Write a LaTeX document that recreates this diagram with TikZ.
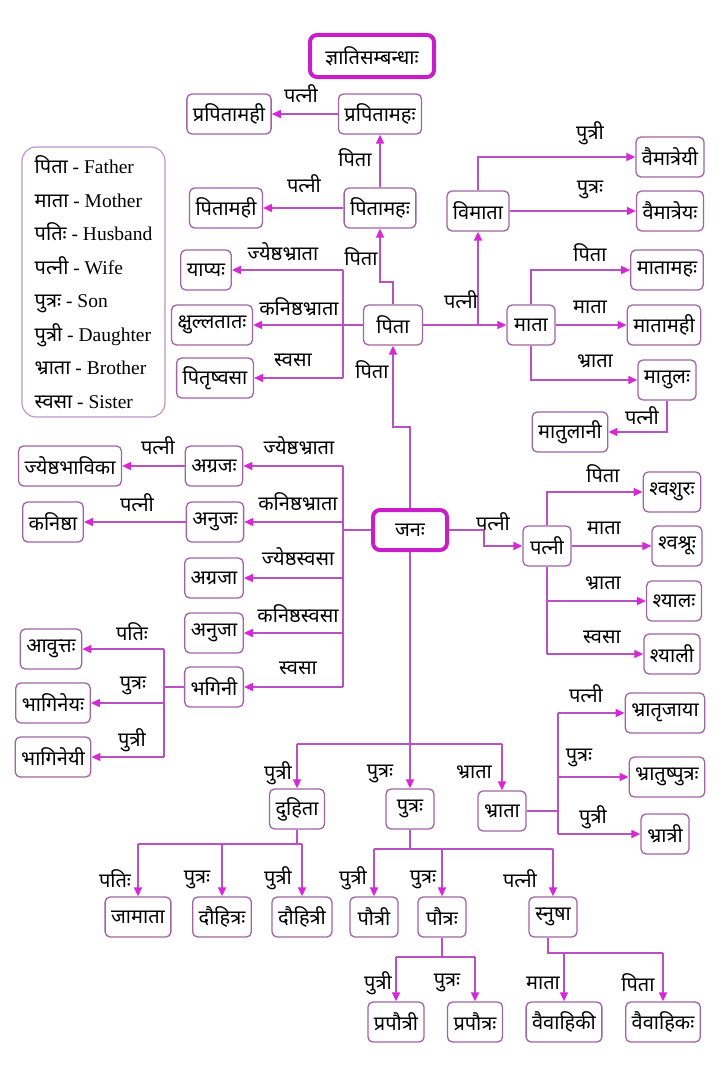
\documentclass[tikz,border=0pt]{standalone}
\usepackage{fontspec}
\setmainfont{Liberation Serif}
\newfontfamily\deva[Script=Devanagari]{Noto Sans}
\usetikzlibrary{arrows.meta}

\begin{document}
\begin{tikzpicture}[x=1pt, y=-1pt,
    box/.style={draw=myedge, line width=1.3pt, rounded corners=5pt, fill=white,
        font=\deva\fontsize{20}{22}\selectfont, minimum height=40pt, minimum width=48pt, inner xsep=6pt},
    mainbox/.style={box, draw=mymain, line width=4pt, rounded corners=7pt},
    lbl/.style={font=\deva\fontsize{20}{22}\selectfont, inner sep=0pt},
    line/.style={draw=myline, line width=1.6pt},
    arr/.style={line, -{Triangle[length=9pt, width=8pt, color=mytip]}},
]
    \definecolor{myedge}{RGB}{160,100,165}
    \definecolor{mymain}{RGB}{200,30,200}
    \definecolor{myline}{RGB}{185,80,195}
    \definecolor{mytip}{RGB}{215,40,215}
    \definecolor{mylegend}{RGB}{190,150,200}

    \useasboundingbox (0,0) rectangle (720,1073);

    % legend
    \node[draw=mylegend, line width=1.2pt, rounded corners=14pt, minimum width=143pt, minimum height=270pt,
        align=left, font=\fontsize{19.5}{33.5}\selectfont] (legend) at (93.5,282)
        {{\deva\fontsize{20}{20}\selectfont पिता} - Father\\ {\deva\fontsize{20}{20}\selectfont माता} - Mother\\
         {\deva\fontsize{20}{20}\selectfont पतिः} - Husband\\ {\deva\fontsize{20}{20}\selectfont पत्नी} - Wife\\
         {\deva\fontsize{20}{20}\selectfont पुत्रः} - Son\\ {\deva\fontsize{20}{20}\selectfont पुत्री} - Daughter\\
         {\deva\fontsize{20}{20}\selectfont भ्राता} - Brother\\ {\deva\fontsize{20}{20}\selectfont स्वसा} - Sister};

    % father's side
    \node[mainbox, minimum width=124pt, minimum height=42pt] (title) at (372,56) {ज्ञातिसम्बन्धाः};
    \node[box] (prapitamahi) at (229,114) {प्रपितामही};
    \node[box] (prapitamaha) at (380,114) {प्रपितामहः};
    \node[box] (pitamahi) at (226,208) {पितामही};
    \node[box] (pitamaha) at (380,208) {पितामहः};
    \node[box] (vimata) at (478,211) {विमाता};
    \node[box] (vaimatreyi) at (670,157) {वैमात्रेयी};
    \node[box] (vaimatreya) at (670,211) {वैमात्रेयः};
    \node[box] (yapya) at (206,270) {याप्यः};
    \node[box] (kshullatata) at (212,325) {क्षुल्लतातः};
    \node[box] (pitrshvasa) at (215,378) {पितृष्वसा};
    \node[box, minimum width=59pt] (pita) at (393,325) {पिता};
    \node[box] (mata) at (531,325) {माता};
    \node[box] (matamaha) at (667,270) {मातामहः};
    \node[box] (matamahi) at (664,325) {मातामही};
    \node[box] (matula) at (667,380) {मातुलः};
    \node[box] (matulani) at (570,432) {मातुलानी};

    % siblings
    \node[mainbox, minimum width=74pt] (jana) at (410,530) {जनः};
    \node[box] (jyeshthabhavika) at (70,466) {ज्येष्ठभाविका};
    \node[box] (agraja) at (214,466) {अग्रजः};
    \node[box] (kanishtha) at (53,522) {कनिष्ठा};
    \node[box] (anuja) at (215,522) {अनुजः};
    \node[box] (agrajaa) at (214,578) {अग्रजा};
    \node[box] (anujaa) at (214,633) {अनुजा};
    \node[box] (bhagini) at (214,687) {भगिनी};
    \node[box] (avutta) at (51,649) {आवुत्तः};
    \node[box] (bhagineya) at (53,703) {भागिनेयः};
    \node[box] (bhagineyi) at (53,757) {भागिनेयी};

    % wife's side
    \node[box] (patni) at (547,546) {पत्नी};
    \node[box] (shvashura) at (672,492) {श्वशुरः};
    \node[box] (shvashru) at (677,546) {श्वश्रूः};
    \node[box] (shyala) at (674,601) {श्यालः};
    \node[box] (shyali) at (672,654) {श्याली};

    % children
    \node[box] (bhratrjaya) at (665,713) {भ्रातृजाया};
    \node[box] (bhratushputra) at (667,777) {भ्रातुष्पुत्रः};
    \node[box] (bhratri) at (665,834) {भ्रात्री};
    \node[box] (duhita) at (297,809) {दुहिता};
    \node[box] (putra) at (410,809) {पुत्रः};
    \node[box] (bhrata) at (502,811) {भ्राता};
    \node[box] (jamata) at (138,917) {जामाता};
    \node[box] (dauhitra) at (222,917) {दौहित्रः};
    \node[box] (dauhitri) at (302,917) {दौहित्री};
    \node[box] (pautri) at (374,917) {पौत्री};
    \node[box] (pautra) at (442,917) {पौत्रः};
    \node[box] (snusha) at (553,917) {स्नुषा};
    \node[box] (prapautri) at (396,1022) {प्रपौत्री};
    \node[box] (prapautra) at (475,1022) {प्रपौत्रः};
    \node[box] (vaivahiki) at (564,1022) {वैवाहिकी};
    \node[box] (vaivahika) at (663,1022) {वैवाहिकः};

    % branch points
    \coordinate (pk) at (380,282);
    \coordinate (sb) at (343,325);
    \coordinate (jk) at (393,427);
    \coordinate (jb) at (343,530);
    \coordinate (bb) at (164,687);
    \coordinate (jp) at (484,530);
    \coordinate (jd) at (410,744);
    \coordinate (bk) at (558,811);
    \coordinate (dk) at (298,844);
    \coordinate (uk) at (410,849);
    \coordinate (ok) at (442,957);
    \coordinate (sk) at (548,953);

    % upwards
    \draw[arr] (prapitamaha.west) -- (prapitamahi.east);
    \draw[arr] (pitamaha.north) -- (prapitamaha.south);
    \draw[arr] (pitamaha.west) -- (pitamahi.east);
    \draw[arr] (pita.north) |- (pk) -- (pitamaha.south);
    \draw[arr] (jana.north) |- (jk) -- (pita.south);

    \draw[arr] (pita.west) -- (kshullatata.east);
    \draw[line] (sb |- yapya) -- (sb |- pitrshvasa);
    \draw[arr] (sb |- yapya) -- (yapya.east);
    \draw[arr] (sb |- pitrshvasa) -- (pitrshvasa.east);

    \draw[arr] (pita.east) -- (mata.west);
    \draw[arr] (vimata.south |- pita) -- (vimata.south);
    \draw[arr] (vimata.north) |- (vaimatreyi.west);
    \draw[arr] (vimata.east) -- (vaimatreya.west);

    \draw[arr] (mata.north) |- (matamaha.west);
    \draw[arr] (mata.east) -- (matamahi.west);
    \draw[arr] (mata.south) |- (matula.west);
    \draw[arr] (matula.south) |- (matulani.east);

    % brothers and sisters
    \draw[line] (jana.west) -- (jb);
    \draw[line] (jb |- agraja) -- (jb |- bhagini);
    \draw[arr] (jb |- agraja) -- (agraja.east);
    \draw[arr] (jb |- anuja) -- (anuja.east);
    \draw[arr] (jb |- agrajaa) -- (agrajaa.east);
    \draw[arr] (jb |- anujaa) -- (anujaa.east);
    \draw[arr] (jb |- bhagini) -- (bhagini.east);
    \draw[arr] (agraja.west) -- (jyeshthabhavika.east);
    \draw[arr] (anuja.west) -- (kanishtha.east);

    \draw[line] (bhagini.west) -- (bb);
    \draw[line] (bb |- avutta) -- (bb |- bhagineyi);
    \draw[arr] (bb |- avutta) -- (avutta.east);
    \draw[arr] (bb |- bhagineya) -- (bhagineya.east);
    \draw[arr] (bb |- bhagineyi) -- (bhagineyi.east);

    % wife
    \draw[arr] (jana.east) -- (jp) |- (patni.west);
    \draw[arr] (patni.north) |- (shvashura.west);
    \draw[arr] (patni.east) -- (shvashru.west);
    \draw[line] (patni.south) -- (patni.south |- shyali);
    \draw[arr] (patni.south |- shyala) -- (shyala.west);
    \draw[arr] (patni.south |- shyali) -- (shyali.west);

    % downwards
    \draw[line] (jana.south) -- (jd);
    \draw[line] (duhita.north |- jd) -- (bhrata.north |- jd);
    \draw[arr] (duhita.north |- jd) -- (duhita.north);
    \draw[arr] (jd) -- (putra.north);
    \draw[arr] (bhrata.north |- jd) -- (bhrata.north);

    \draw[line] (bhrata.east) -- (bk);
    \draw[line] (bk |- bhratrjaya) -- (bk |- bhratri);
    \draw[arr] (bk |- bhratrjaya) -- (bhratrjaya.west);
    \draw[arr] (bk |- bhratushputra) -- (bhratushputra.west);
    \draw[arr] (bk |- bhratri) -- (bhratri.west);

    \draw[line] (duhita.south) -- (duhita.south |- dk);
    \draw[line] (jamata.north |- dk) -- (dauhitri.north |- dk);
    \draw[arr] (jamata.north |- dk) -- (jamata.north);
    \draw[arr] (dauhitra.north |- dk) -- (dauhitra.north);
    \draw[arr] (dauhitri.north |- dk) -- (dauhitri.north);

    \draw[line] (putra.south) -- (uk);
    \draw[line] (pautri.north |- uk) -- (snusha.north |- uk);
    \draw[arr] (pautri.north |- uk) -- (pautri.north);
    \draw[arr] (pautra.north |- uk) -- (pautra.north);
    \draw[arr] (snusha.north |- uk) -- (snusha.north);

    \draw[line] (pautra.south) -- (ok);
    \draw[line] (prapautri.north |- ok) -- (prapautra.north |- ok);
    \draw[arr] (prapautri.north |- ok) -- (prapautri.north);
    \draw[arr] (prapautra.north |- ok) -- (prapautra.north);

    \draw[line] (sk |- snusha.south) -- (sk) -- (vaivahika.north |- sk);
    \draw[arr] (vaivahiki.north |- sk) -- (vaivahiki.north);
    \draw[arr] (vaivahika.north |- sk) -- (vaivahika.north);

    % labels
    \node[lbl] (l-pp) at (301,94) {पत्नी};
    \node[lbl] (l-ppita) at (355,158) {पिता};
    \node[lbl] (l-pm) at (304,184) {पत्नी};
    \node[lbl] (l-vputri) at (590,133) {पुत्री};
    \node[lbl] (l-vputra) at (590,190) {पुत्रः};
    \node[lbl] (l-jb) at (283,252) {ज्येष्ठभ्राता};
    \node[lbl] (l-pita1) at (361,257) {पिता};
    \node[lbl] (l-kb) at (299,307) {कनिष्ठभ्राता};
    \node[lbl] (l-sv) at (293,360) {स्वसा};
    \node[lbl] (l-pita2) at (372,370) {पिता};
    \node[lbl] (l-patni1) at (461,300) {पत्नी};
    \node[lbl] (l-mpita) at (590,253) {पिता};
    \node[lbl] (l-mmata) at (590,307) {माता};
    \node[lbl] (l-mbhrata) at (595,361) {भ्राता};
    \node[lbl] (l-mpatni) at (642,416) {पत्नी};

    \node[lbl] (l-apatni) at (158,446) {पत्नी};
    \node[lbl] (l-ajb) at (299,446) {ज्येष्ठभ्राता};
    \node[lbl] (l-npatni) at (137,503) {पत्नी};
    \node[lbl] (l-akb) at (298,502) {कनिष्ठभ्राता};
    \node[lbl] (l-ajs) at (298,557) {ज्येष्ठस्वसा};
    \node[lbl] (l-aks) at (298,614) {कनिष्ठस्वसा};
    \node[lbl] (l-asv) at (298,668) {स्वसा};
    \node[lbl] (l-bpati) at (132,632) {पतिः};
    \node[lbl] (l-bputra) at (133,686) {पुत्रः};
    \node[lbl] (l-bputri) at (132,740) {पुत्री};

    \node[lbl] (l-jpatni) at (493,522) {पत्नी};
    \node[lbl] (l-wpita) at (603,474) {पिता};
    \node[lbl] (l-wmata) at (604,528) {माता};
    \node[lbl] (l-wbhrata) at (603,583) {भ्राता};
    \node[lbl] (l-wsvasa) at (602,637) {स्वसा};

    \node[lbl] (l-rpatni) at (586,694) {पत्नी};
    \node[lbl] (l-rputra) at (579,758) {पुत्रः};
    \node[lbl] (l-rputri) at (593,817) {पुत्री};
    \node[lbl] (l-cputri) at (278,773) {पुत्री};
    \node[lbl] (l-cputra) at (380,774) {पुत्रः};
    \node[lbl] (l-cbhrata) at (474,772) {भ्राता};

    \node[lbl] (l-dpati) at (115,879) {पतिः};
    \node[lbl] (l-dputra) at (197,880) {पुत्रः};
    \node[lbl] (l-dputri) at (278,878) {पुत्री};
    \node[lbl] (l-uputri) at (353,878) {पुत्री};
    \node[lbl] (l-uputra) at (423,880) {पुत्रः};
    \node[lbl] (l-upatni) at (520,879) {पत्नी};
    \node[lbl] (l-oputri) at (378,983) {पुत्री};
    \node[lbl] (l-oputra) at (447,983) {पुत्रः};
    \node[lbl] (l-smata) at (543,983) {माता};
    \node[lbl] (l-spita) at (638,983) {पिता};
\end{tikzpicture}
\end{document}
